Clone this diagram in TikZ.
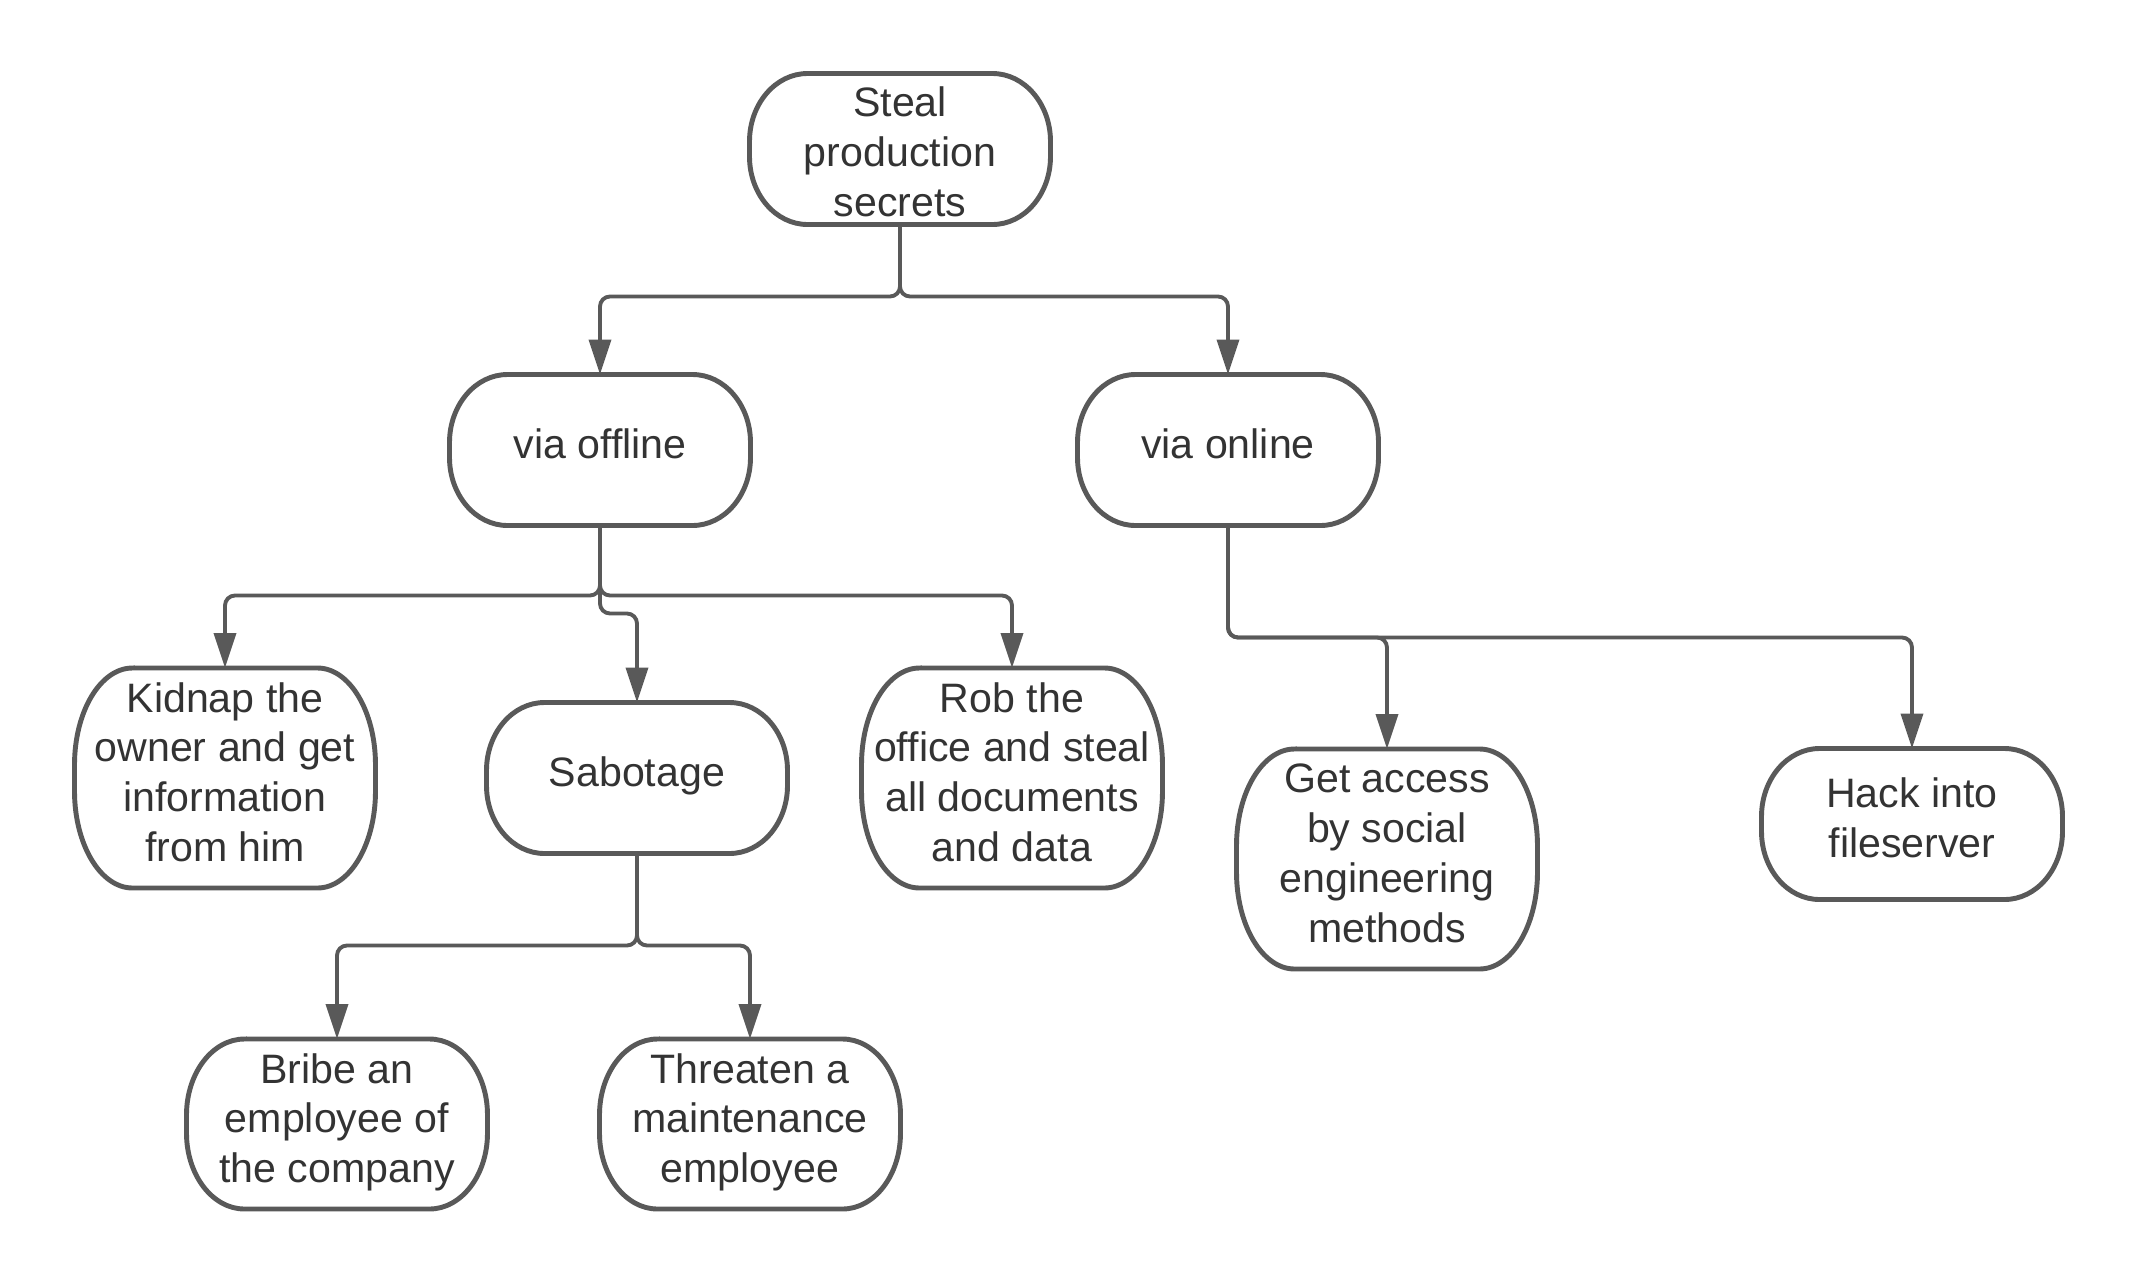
\documentclass[tikz,border=0pt]{standalone}
\usepackage{fontspec}
\setmainfont{Liberation Sans}
\usetikzlibrary{arrows.meta,positioning,calc}
\definecolor{linegray}{HTML}{595959}
\definecolor{textgray}{HTML}{333333}

% outline with elliptic corners: node, y radius (cm)
\newcommand\boxline[2]{%
  \draw[border] ($(#1.north west)+(0.58,0)$) -- ($(#1.north east)+(-0.58,0)$)
    arc[start angle=90, end angle=0, x radius=0.58cm, y radius=#2cm]
    -- ($(#1.south east)+(0,#2)$)
    arc[start angle=0, end angle=-90, x radius=0.58cm, y radius=#2cm]
    -- ($(#1.south west)+(0.58,0)$)
    arc[start angle=270, end angle=180, x radius=0.58cm, y radius=#2cm]
    -- ($(#1.north west)+(0,-#2)$)
    arc[start angle=180, end angle=90, x radius=0.58cm, y radius=#2cm]
    -- cycle;}

\begin{document}
\begin{tikzpicture}[
    every node/.style={
      font=\fontsize{11.7}{14.2}\selectfont,
      text=textgray, align=center,
      inner sep=0pt, outer sep=0pt,
      minimum width=3.01cm,
      minimum height=1.51cm,
      text depth=3.4pt
    },
    tall/.style={minimum height=2.2cm},
    mid/.style={minimum height=1.7cm},
    border/.style={draw=linegray, line width=1.4pt},
    link/.style={draw=linegray, line width=1.1pt, rounded corners=0.1cm,
      -{Triangle[length=3.5mm, width=2.2mm]}}
  ]

  \useasboundingbox (0,0) rectangle (21.38,-12.84);

  % Root
  \node[text height=38.5pt, text depth=0pt] (root) at (9.00,-1.49) {Steal\\production\\secrets};

  % Second level
  \node (offline) at (6.00,-4.50) {via offline};
  \node (online)  at (12.28,-4.50) {via online};

  % Offline branch
  \node[tall] (kidnap) at (2.25,-7.78) {Kidnap the\\owner and get\\information\\from him};
  \node (sabotage) at (6.37,-7.78) {Sabotage};
  \node[tall] (rob) at (10.12,-7.78) {Rob the\\office and steal\\all documents\\and data};

  % Online branch
  \node[tall] (access) at (13.87,-8.59) {Get access\\by social\\engineering\\methods};
  \node (hack) at (19.12,-8.24) {Hack into\\fileserver};

  % Sabotage branch
  \node[mid] (bribe)    at (3.37,-11.24) {Bribe an\\employee of\\the company};
  \node[mid] (threaten) at (7.50,-11.24) {Threaten a\\maintenance\\employee};

  % Outlines
  \foreach \n/\ry in {root/0.68, offline/0.68, online/0.68, sabotage/0.68, hack/0.68,
                      kidnap/0.97, rob/0.97, access/0.97, bribe/0.76, threaten/0.76}
    {\boxline{\n}{\ry}}

  % Connectors
  \draw[link] (root.south) -- ++(0,-0.72) -| (offline.north);
  \draw[link] (root.south) -- ++(0,-0.72) -| (online.north);

  \draw[link] (offline.south) -- ++(0,-0.70) -| (kidnap.north);
  \draw[link] (offline.south) -- ++(0,-0.70) -| (rob.north);
  \draw[link] (offline.south) -- ++(0,-0.88) -| (sabotage.north);

  \draw[link] (online.south) -- ++(0,-1.12) -| (access.north);
  \draw[link] (online.south) -- ++(0,-1.12) -| (hack.north);

  \draw[link] (sabotage.south) -- ++(0,-0.92) -| (bribe.north);
  \draw[link] (sabotage.south) -- ++(0,-0.92) -| (threaten.north);

\end{tikzpicture}
\end{document}
